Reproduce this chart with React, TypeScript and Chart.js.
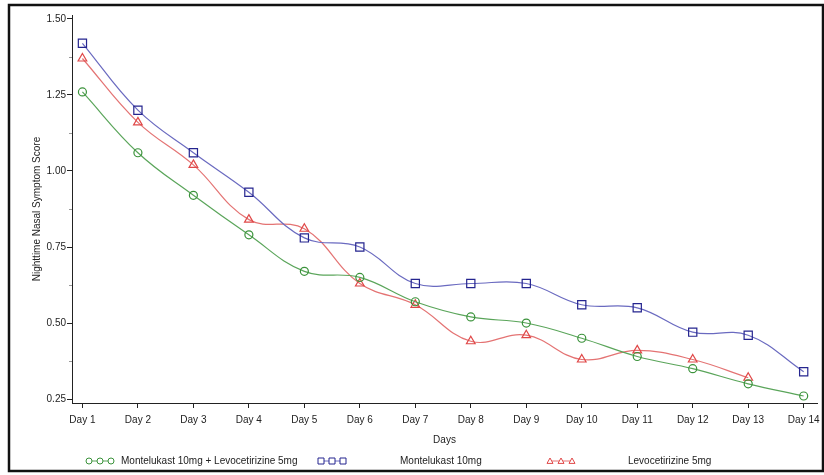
import { useEffect, useRef } from 'react';
import { Chart, registerables } from 'chart.js';

Chart.register(...registerables);

const dayLabels = ['Day 1', 'Day 2', 'Day 3', 'Day 4', 'Day 5', 'Day 6', 'Day 7', 'Day 8', 'Day 9', 'Day 10', 'Day 11', 'Day 12', 'Day 13', 'Day 14'];
const dayNumbers = [1, 2, 3, 4, 5, 6, 7, 8, 9, 10, 11, 12, 13, 14];
const comboScores = [1.26, 1.06, 0.92, 0.79, 0.67, 0.65, 0.57, 0.52, 0.50, 0.45, 0.39, 0.35, 0.30, 0.26];
const montelukastScores = [1.42, 1.20, 1.06, 0.93, 0.78, 0.75, 0.63, 0.63, 0.63, 0.56, 0.55, 0.47, 0.46, 0.34];
const levocetirizineScores = [1.37, 1.16, 1.02, 0.84, 0.81, 0.63, 0.56, 0.44, 0.46, 0.38, 0.41, 0.38, 0.32, null];
const yTickValues = [0.25, 0.5, 0.75, 1.0, 1.25, 1.5];
const yMinorTickValues = [0.375, 0.625, 0.875, 1.125, 1.375];
const seriesNames = ['Montelukast 10mg + Levocetirizine 5mg', 'Montelukast 10mg', 'Levocetirizine 5mg'];

const FONT = '"Liberation Sans", Arial, sans-serif';

const toPoints = (vals: (number | null)[]) => vals.map((v, i) => ({ x: dayNumbers[i], y: v }));

const legendColumns = [
  { sym: 100, text: 121 },
  { sym: 332, text: 400 },
  { sym: 561, text: 628 },
];

function drawMarker(ctx: CanvasRenderingContext2D, style: string, x: number, y: number, r: number) {
  ctx.beginPath();
  if (style === 'circle') {
    ctx.arc(x, y, r, 0, Math.PI * 2);
  } else if (style === 'rect') {
    ctx.rect(x - r, y - r, 2 * r, 2 * r);
  } else {
    ctx.moveTo(x, y - r);
    ctx.lineTo(x + r, y + r * 0.8);
    ctx.lineTo(x - r, y + r * 0.8);
    ctx.closePath();
  }
  ctx.fillStyle = '#fff';
  ctx.fill();
  ctx.stroke();
}

const framePlugin = {
  id: 'frame',
  beforeDraw(chart: any) {
    const ctx = chart.ctx;
    ctx.save();
    ctx.fillStyle = '#fff';
    ctx.fillRect(0, 0, chart.width, chart.height);
    ctx.restore();
  },
  afterDraw(chart: any) {
    const ctx: CanvasRenderingContext2D = chart.ctx;
    ctx.save();
    // minor y ticks
    const ys = chart.scales.y;
    ctx.strokeStyle = '#999';
    ctx.lineWidth = 1;
    yMinorTickValues.forEach((v) => {
      const py = Math.round(ys.getPixelForValue(v)) + 0.5;
      ctx.beginPath();
      ctx.moveTo(ys.right - 3, py);
      ctx.lineTo(ys.right, py);
      ctx.stroke();
    });
    // legend
    const ly = 461;
    chart.data.datasets.forEach((ds: any, i: number) => {
      const col = legendColumns[i];
      ctx.strokeStyle = ds.borderColor;
      ctx.lineWidth = 1;
      ctx.beginPath();
      ctx.moveTo(col.sym - 12, ly);
      ctx.lineTo(col.sym + 12, ly);
      ctx.stroke();
      ctx.strokeStyle = ds.pointBorderColor;
      [-11, 0, 11].forEach((dx) => drawMarker(ctx, ds.pointStyle, col.sym + dx, ly, 3));
      ctx.fillStyle = '#222';
      ctx.font = `10px ${FONT}`;
      ctx.textBaseline = 'middle';
      ctx.textAlign = 'left';
      ctx.fillText(ds.label, col.text, ly);
    });
    // outer frame
    ctx.strokeStyle = '#111';
    ctx.lineWidth = 2.5;
    ctx.strokeRect(9, 5, 814, 466);
    ctx.restore();
  },
};

export default function App() {
  const ref = useRef<HTMLCanvasElement>(null);
  useEffect(() => {
    document.body.style.margin = '0';
    const canvas = ref.current!;
    const chart = new Chart(canvas, {
      type: 'line',
      data: {
        datasets: [
          {
            label: seriesNames[0],
            data: toPoints(comboScores),
            borderColor: '#5aa55a',
            pointBorderColor: '#3a923a',
            pointBackgroundColor: 'rgba(0,0,0,0)',
            pointStyle: 'circle',
            pointRadius: 4,
            borderWidth: 1.2,
            tension: 0.4,
          },
          {
            label: seriesNames[1],
            data: toPoints(montelukastScores),
            borderColor: '#6a6ac0',
            pointBorderColor: '#25258f',
            pointBackgroundColor: 'rgba(0,0,0,0)',
            pointStyle: 'rect',
            pointRadius: 5.8,
            borderWidth: 1.2,
            tension: 0.4,
          },
          {
            label: seriesNames[2],
            data: toPoints(levocetirizineScores),
            borderColor: '#e47373',
            pointBorderColor: '#e04848',
            pointBackgroundColor: 'rgba(0,0,0,0)',
            pointStyle: 'triangle',
            pointRadius: 5,
            borderWidth: 1.2,
            tension: 0.4,
          },
        ],
      },
      options: {
        responsive: false,
        animation: false,
        layout: { padding: { left: 0, right: 1, top: 15, bottom: 25 } },
        plugins: {
          legend: { display: false },
          tooltip: { enabled: false },
        },
        scales: {
          x: {
            type: 'linear',
            min: 0.812,
            max: 14.24,
            afterBuildTicks: (scale: any) => {
              scale.ticks = dayNumbers.map((v) => ({ value: v }));
            },
            afterFit: (scale: any) => {
              scale.height = 47;
              scale.paddingLeft = 0;
              scale.paddingRight = 0;
            },
            ticks: {
              callback: (v: any) => dayLabels[dayNumbers.indexOf(Number(v))] ?? '',
              color: '#222',
              font: { size: 10, family: FONT },
              padding: 6,
              maxRotation: 0,
              autoSkip: false,
            },
            grid: { drawOnChartArea: false, drawTicks: true, tickLength: 5, color: '#222' },
            border: { display: true, color: '#222' },
            title: {
              display: true,
              text: 'Days',
              color: '#222',
              font: { size: 10, family: FONT },
              padding: { top: 0, bottom: 4 },
            },
          },
          y: {
            type: 'linear',
            min: 0.237,
            max: 1.513,
            afterBuildTicks: (scale: any) => {
              scale.ticks = yTickValues.map((v) => ({ value: v }));
            },
            afterFit: (scale: any) => {
              scale.width = 72;
              scale.paddingTop = 0;
              scale.paddingBottom = 0;
            },
            ticks: {
              callback: (v: any) => Number(v).toFixed(2),
              color: '#222',
              font: { size: 10, family: FONT },
              padding: 1,
            },
            grid: { drawOnChartArea: false, drawTicks: true, tickLength: 5, color: '#222' },
            border: { display: true, color: '#222' },
            title: {
              display: true,
              text: 'Nighttime Nasal Symptom Score',
              color: '#222',
              font: { size: 10, family: FONT },
              padding: { top: 31, bottom: 0 },
            },
          },
        },
      },
      plugins: [framePlugin],
    } as any);
    return () => chart.destroy();
  }, []);
  return <canvas ref={ref} width={824} height={475} style={{ display: 'block', width: 824, height: 475 }} />;
}
